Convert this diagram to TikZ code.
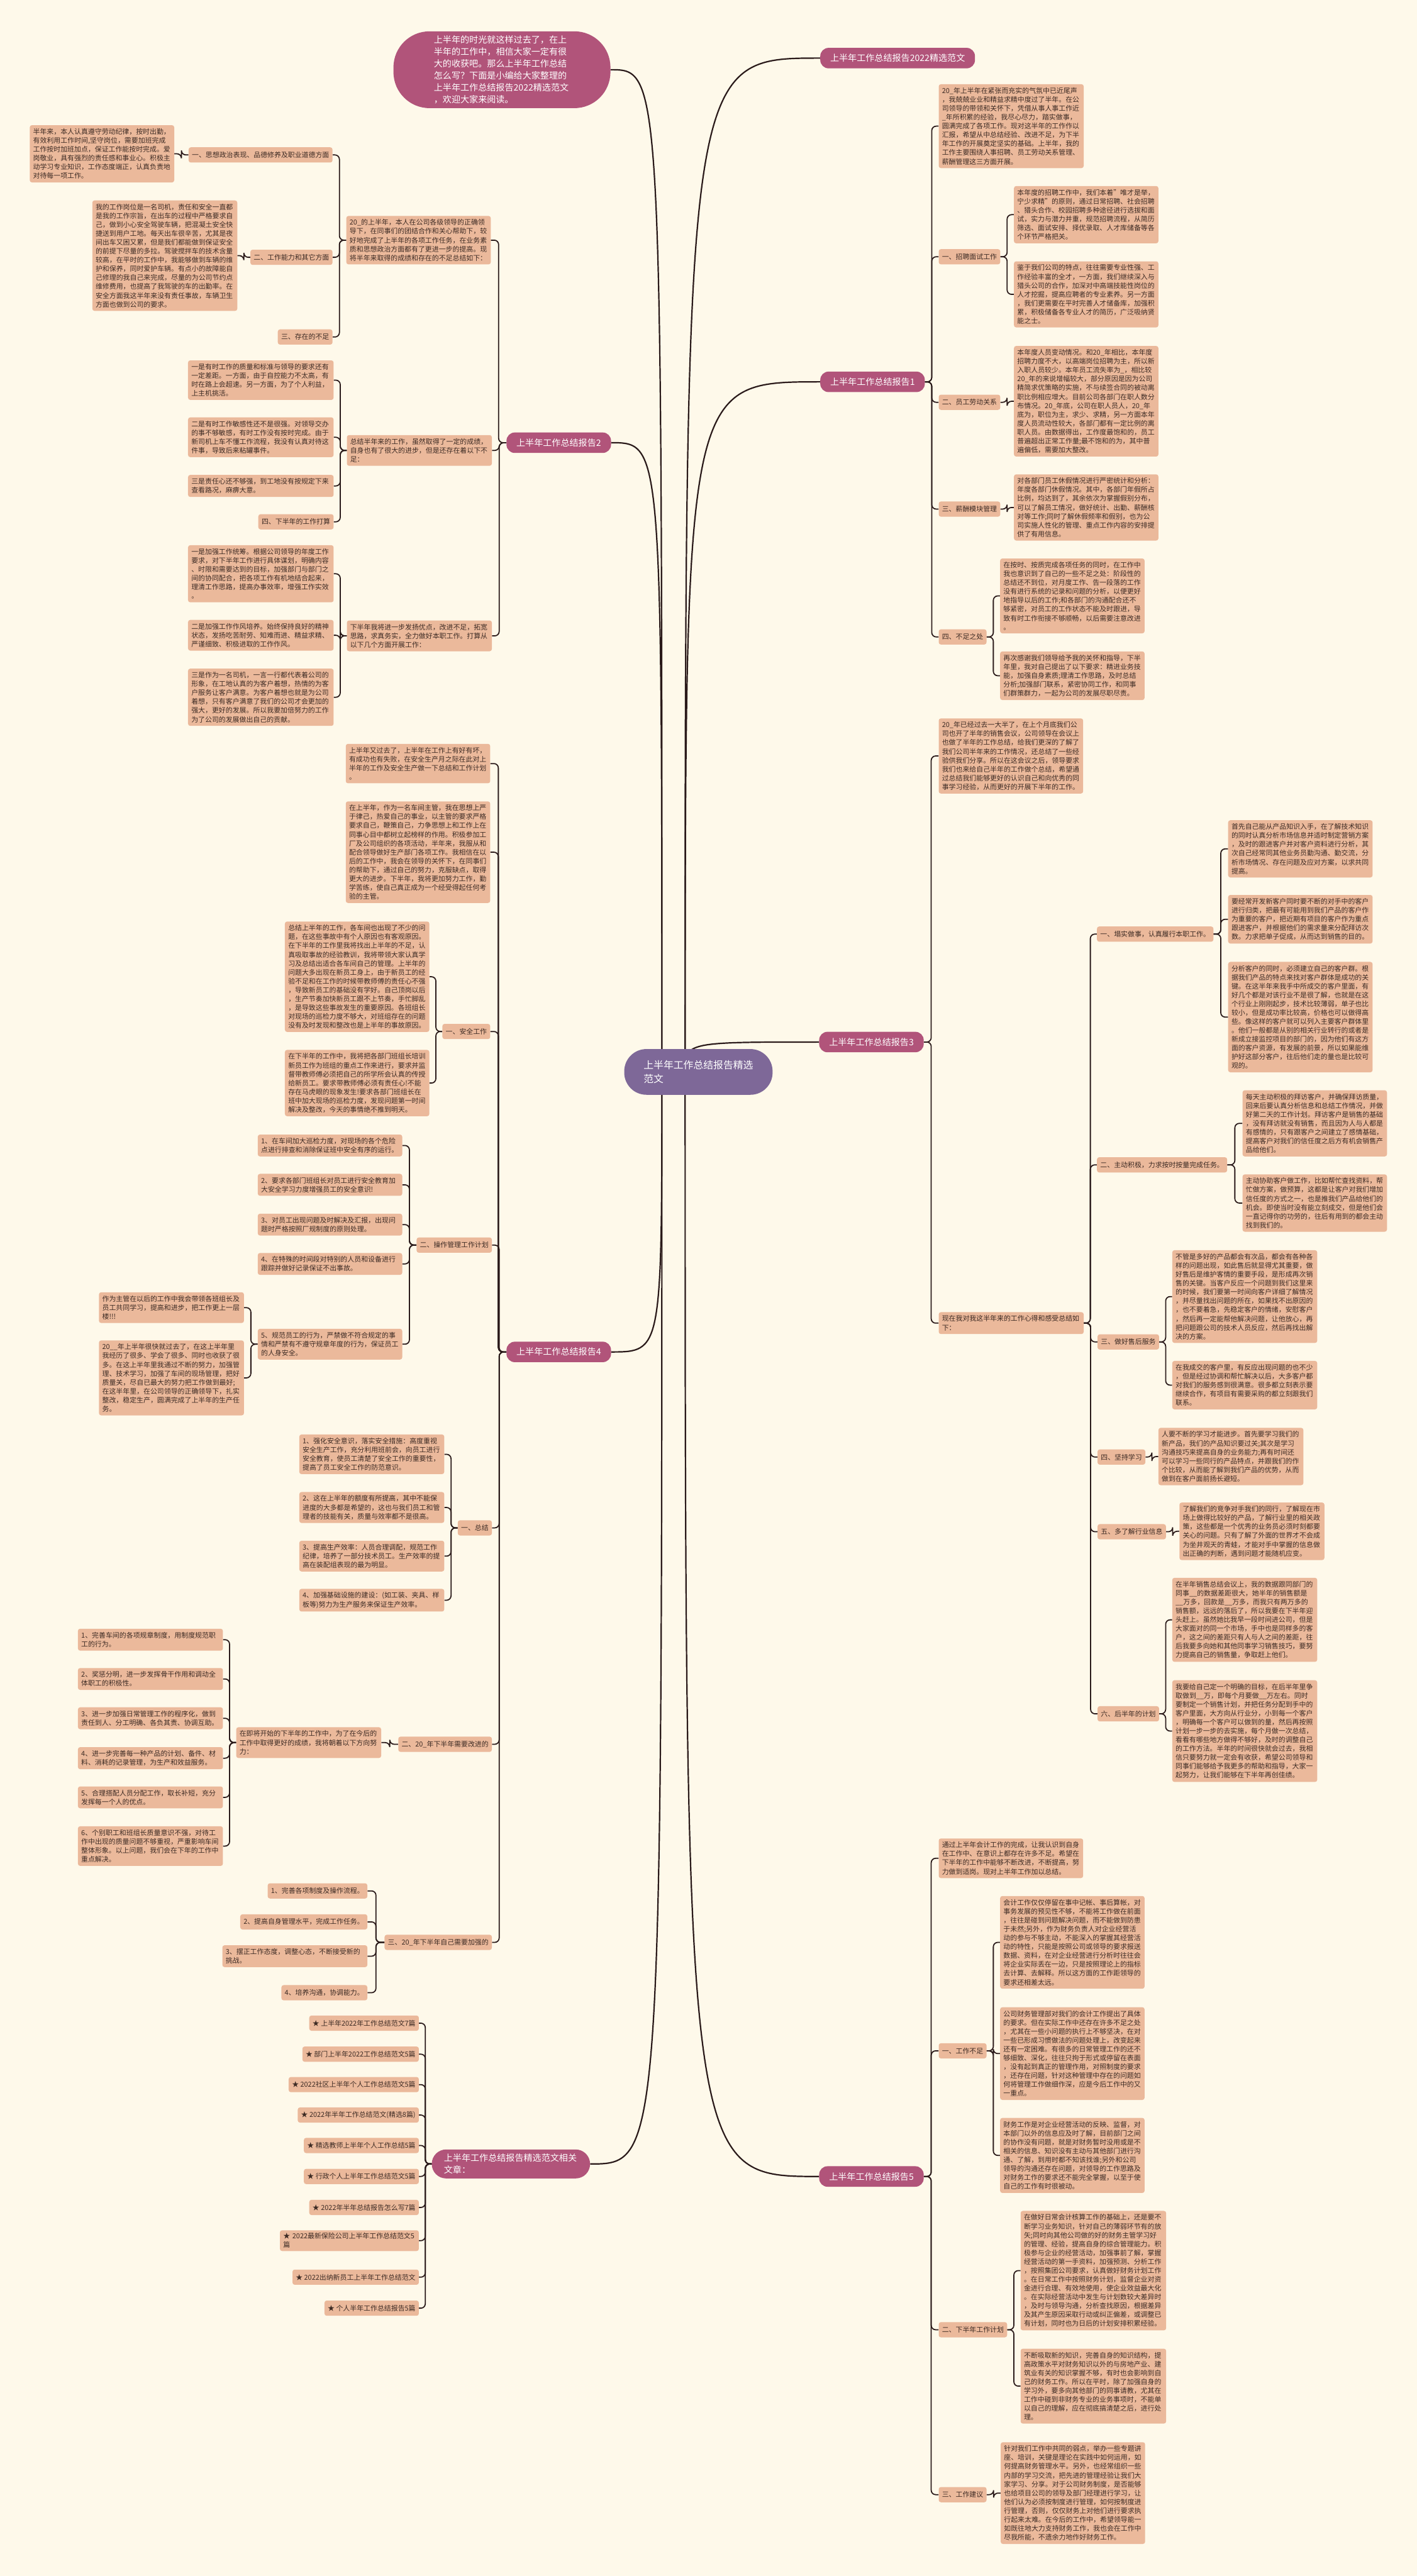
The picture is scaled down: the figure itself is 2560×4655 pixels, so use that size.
\documentclass[tikz,border=0pt]{standalone}
\usepackage{fontspec}
\setmainfont{Noto Sans CJK SC}
\usetikzlibrary{calc}
\XeTeXlinebreaklocale "zh"
\XeTeXlinebreakskip=0pt plus 0.1pt
\newcount\cjkcode
\def\setcjkclass#1#2{\cjkcode=#1\relax\loop\XeTeXcharclass\cjkcode=1\relax\advance\cjkcode by 1\relax\ifnum\cjkcode<#2\relax\repeat}
\setcjkclass{"4E00}{"A000}
\setcjkclass{"3001}{"3040}
\setcjkclass{"FF01}{"FFF0}
\XeTeXcharclass"2605=1\relax
\XeTeXinterchartokenstate=1
\XeTeXinterchartoks 1 1 = {\hskip 0pt plus 0.1pt\relax}
\XeTeXinterchartoks 0 1 = {\hskip 0pt plus 0.1pt\relax}
\XeTeXinterchartoks 1 0 = {\hskip 0pt plus 0.1pt\relax}
\definecolor{bgc}{HTML}{FEF9EA}
\definecolor{leafc}{HTML}{EBB99B}
\definecolor{txtc}{HTML}{3D2B24}
\definecolor{magc}{HTML}{B1547A}
\definecolor{cenc}{HTML}{7E6898}
\definecolor{linec}{HTML}{2A1A1A}
\newcommand\leaffont{\fontsize{12.4}{16}\selectfont}
\newcommand\mainlabfont{\fontsize{16}{21.5}\selectfont}
\newcommand\cenfont{\fontsize{18}{24}\selectfont}
\newcommand\conR[2]{\draw[conn] (#1.east) -- ($(#1.east)!.5!(#1.east -| #2.west)$) |- (#2.west);}
\newcommand\conL[2]{\draw[conn] (#1.west) -- ($(#1.west)!.5!(#1.west -| #2.east)$) |- (#2.east);}
\newcommand\cenR[1]{\draw[bigconn] let \p1=(#1.west), \p2=(csR) in (\p2) .. controls (\x2,\y1) .. (\p1);}
\newcommand\cenL[1]{\draw[bigconn] let \p1=(#1.east), \p2=(csL) in (\p2) .. controls (\x2,\y1) .. (\p1);}
\pgfdeclarelayer{bgfill}
\pgfdeclarelayer{background}
\pgfsetlayers{bgfill,background,main}
\tikzset{
  leafR/.style={fill=leafc, rounded corners=4pt, inner xsep=6pt, inner ysep=6pt, text width=#1pt, align=left, font=\leaffont, text=txtc, anchor=north west},
  leafL/.style={leafR=#1, anchor=north east},
  labR/.style={fill=leafc, rounded corners=4pt, inner xsep=6pt, inner ysep=3pt, minimum height=27.5pt, font=\leaffont, text=txtc, anchor=north west},
  labL/.style={labR, anchor=north east},
  mainlab/.style={fill=magc, text=white, rounded corners=15pt, inner xsep=18pt, inner ysep=4pt, minimum height=37pt, font=\mainlabfont},
  introbox/.style={fill=magc, text=white, font=\mainlabfont, text width=246pt, align=left, inner xsep=73pt, inner ysep=8pt, rounded corners=65pt},
  cenbox/.style={fill=cenc, text=white, font=\cenfont, align=left, inner xsep=35pt, inner ysep=21pt, rounded corners=40pt},
  rellab/.style={fill=magc, text=white, font=\mainlabfont, text width=242pt, align=left, inner xsep=22pt, inner ysep=8pt, rounded corners=26pt, anchor=north west},
  conn/.style={draw=linec, line width=2pt, rounded corners=8pt},
  bigconn/.style={draw=linec, line width=2.5pt}
}
\begin{document}
\begin{tikzpicture}[x=1pt,y=-1pt]
\begin{pgfonlayer}{bgfill}
\fill[bgc] (0,0) rectangle (2560,4655);
\end{pgfonlayer}
\path[use as bounding box] (0,0) rectangle (2560,4655);

% ---------- centre and intro ----------
\node[cenbox] (cen) at (1262,1937) {上半年工作总结报告精选\\范文};
\coordinate (csR) at (1238,1937);
\coordinate (csL) at (1196,1937);
\node[introbox] (intro) at (907,126) {上半年的时光就这样过去了，在上半年的工作中，相信大家一定有很大的收获吧。那么上半年工作总结怎么写？下面是小编给大家整理的上半年工作总结报告2022精选范文，欢迎大家来阅读。};

% ---------- report 2 (left) ----------
\node[mainlab, anchor=west] (r2) at (915,800) {上半年工作总结报告2};
\node[leafL=249] (r2a) at (887,390) {20\_的上半年，本人在公司各级领导的正确领导下，在同事们的团结合作和关心帮助下，较好地完成了上半年的各项工作任务，在业务素质和思想政治方面都有了更进一步的提高。现将半年来取得的成绩和存在的不足总结如下：};
\node[labL] (r2a1) at (601,266) {一、思想政治表现、品德修养及职业道德方面};
\node[leafL=249] (r2a1l) at (315,226) {半年来，本人认真遵守劳动纪律，按时出勤，有效利用工作时间,坚守岗位，需要加班完成工作按时加班加点，保证工作能按时完成。爱岗敬业，具有强烈的责任感和事业心。积极主动学习专业知识，工作态度端正，认真负责地对待每一项工作。};
\node[labL] (r2a2) at (601,451) {二、工作能力和其它方面};
\node[leafL=250] (r2a2l) at (429,362) {我的工作岗位是一名司机，责任和安全一直都是我的工作宗旨，在出车的过程中严格要求自己，做到小心安全驾驶车辆，把混凝土安全快捷送到用户工地。每天出车很辛苦，尤其是夜间出车又困又累，但是我们都能做到保证安全的前提下尽量的多拉。驾驶搅拌车的技术含量较高，在平时的工作中，我能够做到车辆的维护和保养，同时爱护车辆。有点小的故障能自己修理的我自己来完成，尽量的为公司节约点维修费用，也提高了我驾驶的车的出勤率。在安全方面我这半年来没有责任事故，车辆卫生方面也做到公司的要求。};
\node[labL] (r2a3) at (601,595) {三、存在的不足};
\node[leafL=250] (r2b) at (889,786) {总结半年来的工作，虽然取得了一定的成绩，自身也有了很大的进步，但是还存在着以下不足：};
\node[leafL=251] (r2b1) at (603,651) {一是有时工作的质量和标准与领导的要求还有一定差距。一方面，由于自控能力不太高，有时在路上会超速。另一方面，为了个人利益，上主机挑活。};
\node[leafL=251] (r2b2) at (603,754) {二是有时工作敏感性还不是很强。对领导交办的事不够敏感，有时工作没有按时完成。由于新司机上车不懂工作流程，我没有认真对待这件事，导致后来粘罐事件。};
\node[leafL=251] (r2b3) at (603,858) {三是责任心还不够强，到工地没有按规定下来查看路况，麻痹大意。};
\node[labL] (r2b4) at (603,929) {四、下半年的工作打算};
\node[leafL=250] (r2c) at (889,1121) {下半年我将进一步发扬优点，改进不足，拓宽思路，求真务实，全力做好本职工作。打算从以下几个方面开展工作：};
\node[leafL=251] (r2c1) at (603,985) {一是加强工作统筹。根据公司领导的年度工作要求，对下半年工作进行具体谋划，明确内容、时限和需要达到的目标，加强部门与部门之间的协同配合，把各项工作有机地结合起来，理清工作思路，提高办事效率，增强工作实效。};
\node[leafL=251] (r2c2) at (603,1120) {二是加强工作作风培养。始终保持良好的精神状态，发扬吃苦耐劳、知难而进、精益求精、严谨细致、积极进取的工作作风。};
\node[leafL=251] (r2c3) at (603,1208) {三是作为一名司机，一言一行都代表着公司的形象，在工地认真的为客户着想，热情的为客户服务让客户满意。为客户着想也就是为公司着想，只有客户满意了我们的公司才会更加的强大，更好的发展。所以我要加倍努力的工作为了公司的发展做出自己的贡献。};

% ---------- report 4 (left) ----------
\node[mainlab, anchor=west] (r4) at (915,2443) {上半年工作总结报告4};
\node[leafL=249] (r4a) at (886,1344) {上半年又过去了，上半年在工作上有好有坏，有成功也有失败，在安全生产月之际在此对上半年的工作及安全生产做一下总结和工作计划。};
\node[leafL=249] (r4b) at (886,1448) {在上半年，作为一名车间主管，我在思想上严于律己，热爱自己的事业，以主管的要求严格要求自己，鞭策自己，力争思想上和工作上在同事心目中都树立起榜样的作用。积极参加工厂及公司组织的各项活动，半年来，我服从和配合领导做好生产部门各项工作。我相信在以后的工作中，我会在领导的关怀下，在同事们的帮助下，通过自己的努力，克服缺点，取得更大的进步。下半年，我将更加努力工作，勤学苦练，使自己真正成为一个经受得起任何考验的主管。};
\node[labL] (r4c) at (886,1850) {一、安全工作};
\node[leafL=249] (r4c1) at (776,1665) {总结上半年的工作，各车间也出现了不少的问题，在这些事故中有个人原因也有客观原因。在下半年的工作里我将找出上半年的不足，认真吸取事故的经验教训，我将带领大家认真学习及总结出适合各车间自己的管理。上半年的问题大多出现在新员工身上，由于新员工的经验不足和在工作的时候带教师傅的责任心不强，导致新员工的基础没有学好。自己顶岗以后，生产节奏加快新员工跟不上节奏，手忙脚乱，是导致这些事故发生的重要原因。各班组长对现场的巡检力度不够大，对班组存在的问题没有及时发现和整改也是上半年的事故原因。};
\node[leafL=249] (r4c2) at (776,1897) {在下半年的工作中，我将把各部门班组长培训新员工作为班组的重点工作来进行，要求并监督带教师傅必须把自己的所学所会认真的传授给新员工。要求带教师傅必须有责任心!不能存在马虎眼的现象发生!要求各部门班组长在班中加大现场的巡检力度，发现问题第一时间解决及整改，今天的事情绝不推到明天。};
\node[labL] (r4d) at (889,2236) {二、操作管理工作计划};
\node[leafL=249] (r4d1) at (727,2050) {1、在车间加大巡检力度，对现场的各个危险点进行排查和消除保证班中安全有序的运行。};
\node[leafL=249] (r4d2) at (727,2121) {2、要求各部门班组长对员工进行安全教育加大安全学习力度增强员工的安全意识!};
\node[leafL=249] (r4d3) at (727,2193) {3、对员工出现问题及时解决及汇报，出现问题时严格按照厂规制度的原则处理。};
\node[leafL=249] (r4d4) at (727,2264) {4、在特殊的时间段对特别的人员和设备进行跟踪并做好记录保证不出事故。};
\node[leafL=249] (r4d5) at (727,2401) {5、规范员工的行为，严禁做不符合规定的事情和严禁有不遵守规章年度的行为，保证员工的人身安全。};
\node[leafL=250] (r4d5a) at (441,2335) {作为主管在以后的工作中我会带领各班组长及员工共同学习，提高和进步，把工作更上一层楼!!!};
\node[leafL=250] (r4d5b) at (441,2422) {20\_\_年上半年很快就过去了，在这上半年里我经历了很多、学会了很多、同时也收获了很多。在这上半年里我通过不断的努力，加强管理、技术学习，加强了车间的现场管理，把好质量关，尽自已最大的努力把工作做到最好;在这半年里，在公司领导的正确领导下，扎实整改，稳定生产，圆满完成了上半年的生产任务。};
\node[labL] (r4e) at (889,2747) {一、总结};
\node[leafL=250] (r4e1) at (803,2592) {1、强化安全意识，落实安全措施：高度重视安全生产工作，充分利用班前会，向员工进行安全教育，使员工清楚了安全工作的重要性，提高了员工安全工作的防范意识。};
\node[leafL=250] (r4e2) at (803,2696) {2、这在上半年的额度有所提高，其中不能保进度的大多都是希望的，这也与我们员工和管理者的技能有关，质量与效率都不是很高。};
\node[leafL=250] (r4e3) at (803,2784) {3、提高生产效率：人员合理调配，规范工作纪律，培养了一部分技术员工。生产效率的提高在装配组表现的最为明显。};
\node[leafL=250] (r4e4) at (803,2871) {4、加强基础设施的建设：(如工装、夹具、样板等)努力为生产服务来保证生产效率。};
\node[labL] (r4f) at (889,3138) {二、20\_年下半年需要改进的};
\node[leafL=250] (r4f0) at (689,3121) {在即将开始的下半年的工作中，为了在今后的工作中取得更好的成绩，我将朝着以下方向努力：};
\node[leafL=250] (r4f1) at (403,2943) {1、完善车间的各项规章制度，用制度规范职工的行为。};
\node[leafL=250] (r4f2) at (403,3014) {2、奖惩分明，进一步发挥骨干作用和调动全体职工的积极性。};
\node[leafL=250] (r4f3) at (403,3085) {3、进一步加强日常管理工作的程序化，做到责任到人、分工明确、各负其责、协调互助。};
\node[leafL=250] (r4f4) at (403,3157) {4、进一步完善每一种产品的计划、备件、材料、消耗的记录管理，为生产和效益服务。};
\node[leafL=250] (r4f5) at (403,3228) {5、合理搭配人员分配工作，取长补短，充分发挥每一个人的优点。};
\node[leafL=250] (r4f6) at (403,3300) {6、个别职工和班组长质量意识不强，对待工作中出现的质量问题不够重视，严重影响车间整体形象。以上问题，我们会在下年的工作中重点解决。};
\node[labL] (r4g) at (889,3496) {三、20\_年下半年自己需要加强的};
\node[labL] (r4g1) at (664,3403) {1、完善各项制度及操作流程。};
\node[labL] (r4g2) at (664,3459) {2、提高自身管理水平，完成工作任务。};
\node[leafL=250] (r4g3) at (664,3515) {3、摆正工作态度，调整心态，不断接受新的挑战。};
\node[labL] (r4g4) at (664,3587) {4、培养沟通，协调能力。};

% ---------- related articles (left) ----------
\node[rellab] (rel) at (780,3884) {上半年工作总结报告精选范文相关文章：};
\node[labL] (rl1) at (757,3642) {★ 上半年2022年工作总结范文7篇};
\node[labL] (rl2) at (757,3698) {★ 部门上半年2022工作总结范文5篇};
\node[labL] (rl3) at (757,3753) {★ 2022社区上半年个人工作总结范文5篇};
\node[labL] (rl4) at (757,3808) {★ 2022年半年工作总结范文(精选8篇)};
\node[labL] (rl5) at (757,3863) {★ 精选教师上半年个人工作总结5篇};
\node[labL] (rl6) at (757,3919) {★ 行政个人上半年工作总结范文5篇};
\node[labL] (rl7) at (757,3975) {★ 2022年半年总结报告怎么写7篇};
\node[leafL=239, inner ysep=5pt] (rl8) at (757,4030) {★ 2022最新保险公司上半年工作总结范文5篇};
\node[labL] (rl9) at (757,4101) {★ 2022出纳新员工上半年工作总结范文};
\node[labL] (rl10) at (757,4157) {★ 个人半年工作总结报告5篇};

% ---------- right: 2022 label and report 1 ----------
\node[mainlab, anchor=west] (r0) at (1482,105) {上半年工作总结报告2022精选范文};
\node[mainlab, anchor=west] (r1) at (1482,690) {上半年工作总结报告1};
\node[leafR=250] (r1a) at (1696,152) {20\_年上半年在紧张而充实的气氛中已近尾声，我兢兢业业和精益求精中度过了半年。在公司领导的带领和关怀下，凭借从事人事工作近\_年所积累的经验，我尽心尽力，踏实做事，圆满完成了各项工作。现对这半年的工作作以汇报，希望从中总结经验、改进不足，为下半年工作的开展奠定坚实的基础。上半年，我的工作主要围绕人事招聘、员工劳动关系管理、薪酬管理这三方面开展。};
\node[labR] (r1b) at (1696,450) {一、招聘面试工作};
\node[leafR=249] (r1b1) at (1832,336) {本年度的招聘工作中，我们本着"唯才是举，宁少求精"的原则，通过日常招聘、社会招聘、猎头合作、校园招聘多种途径进行选拔和面试，实力与潜力并重，规范招聘流程，从简历筛选、面试安排、择优录取、人才库储备等各个环节严格把关。};
\node[leafR=249] (r1b2) at (1832,472) {鉴于我们公司的特点，往往需要专业性强、工作经验丰富的全才，一方面，我们继续深入与猎头公司的合作，加深对中高端技能性岗位的人才挖掘，提高应聘者的专业素养。另一方面，我们更需要在平时完善人才储备库，加强积累，积极储备各专业人才的简历，广泛吸纳贤能之士。};
\node[labR] (r1c) at (1696,713) {二、员工劳动关系};
\node[leafR=249] (r1c1) at (1832,625) {本年度人员变动情况。和20\_年相比，本年度招聘力度不大，以高端岗位招聘为主，所以新入职人员较少。本年员工流失率为\_，相比较20\_年的来说增幅较大，部分原因是因为公司精简求优策略的实施，不与续签合同的被动离职比例相应增大。目前公司各部门在职人数分布情况。20\_年底，公司在职人员人，20\_年底为，职位为主，求少、求精，另一方面本年度人员流动性较大，各部门都有一定比例的离职人员。由数据得出，工作度最饱和的，员工普遍超出正常工作量;最不饱和的为，其中普遍偏低，需要加大整改。};
\node[labR] (r1d) at (1696,906) {三、薪酬模块管理};
\node[leafR=249] (r1d1) at (1832,857) {对各部门员工休假情况进行严密统计和分析：年度各部门休假情况。其中，各部门年假所占比例，均达到了，其余依次为掌握假别分布，可以了解员工情况，做好统计、出勤、薪酬核对等工作;同时了解休假频率和假别，也为公司实施人性化的管理、重点工作内容的安排提供了有用信息。};
\node[labR] (r1e) at (1696,1137) {四、不足之处};
\node[leafR=249] (r1e1) at (1807,1009) {在按时、按质完成各项任务的同时，在工作中我也意识到了自己的一些不足之处：阶段性的总结还不到位，对月度工作、告一段落的工作没有进行系统的记录和问题的分析，以便更好地指导以后的工作;和各部门的沟通配合还不够紧密，对员工的工作状态不能及时跟进，导致有时工作衔接不够顺畅，以后需要注意改进。};
\node[leafR=249] (r1e2) at (1807,1177) {再次感谢我们领导给予我的关怀和指导，下半年里，我对自己提出了以下要求：精进业务技能，加强自身素质;理清工作思路，及时总结分析;加强部门联系，紧密协同工作，和同事们群策群力，一起为公司的发展尽职尽责。};

% ---------- report 3 ----------
\node[mainlab, anchor=west] (r3) at (1480,1883) {上半年工作总结报告3};
\node[leafR=249] (r3a) at (1696,1298) {20\_年已经过去一大半了，在上个月底我们公司也开了半年的销售会议，公司领导在会议上也做了半年的工作总结，给我们更深的了解了我们公司半年来的工作情况，还总结了一些经验供我们分享。所以在这会议之后，领导要求我们也来给自己半年的工作做个总结，希望通过总结我们能够更好的认识自己和向优秀的同事学习经验，从而更好的开展下半年的工作。};
\node[leafR=250] (r3b) at (1696,2371) {现在我对我这半年来的工作心得和感受总结如下：};
\node[labR] (r3b1) at (1982,1674) {一、塌实做事，认真履行本职工作。};
\node[leafR=249] (r3b1a) at (2219,1482) {首先自己能从产品知识入手，在了解技术知识的同时认真分析市场信息并适时制定营销方案，及时的跟进客户并对客户资料进行分析，其次自己经常同其他业务员勤沟通、勤交流，分析市场情况、存在问题及应对方案，以求共同提高。};
\node[leafR=249] (r3b1b) at (2219,1617) {要经常开发新客户同时要不断的对手中的客户进行归类，把最有可能用到我们产品的客户作为重要的客户，把近期有项目的客户作为重点跟进客户，并根据他们的需求量来分配拜访次数。力求把单子促成，从而达到销售的目的。};
\node[leafR=249] (r3b1c) at (2219,1738) {分析客户的同时，必须建立自己的客户群。根据我们产品的特点来找对客户群体是成功的关键。在这半年来我手中所成交的客户里面，有好几个都是对该行业不是很了解，也就是在这个行业上刚刚起步，技术比较薄弱，单子也比较小，但是成功率比较高，价格也可以做得高些。像这样的客户就可以列入主要客户群体里。他们一般都是从别的相关行业转行的或者是新成立接监控项目的部门的，因为他们有这方面的客户资源，有发展的前景，所以如果能维护好这部分客户，往后他们走的量也是比较可观的。};
\node[labR] (r3b2) at (1982,2091) {二、主动积极，力求按时按量完成任务。};
\node[leafR=249] (r3b2a) at (2245,1970) {每天主动积极的拜访客户，并确保拜访质量，回来后要认真分析信息和总结工作情况，并做好第二天的工作计划。拜访客户是销售的基础，没有拜访就没有销售，而且因为人与人都是有感情的，只有跟客户之间建立了感情基础，提高客户对我们的信任度之后方有机会销售产品给他们。};
\node[leafR=249] (r3b2b) at (2245,2122) {主动协助客户做工作，比如帮忙查找资料，帮忙做方案，做预算，这都是让客户对我们增加信任度的方式之一，也是推我们产品给他们的机会。即使当时没有能立刻成交，但是他们会一直记得你的功劳的，往后有用到的都会主动找到我们的。};
\node[labR] (r3b3) at (1983,2411) {三、做好售后服务};
\node[leafR=250] (r3b3a) at (2118,2259) {不管是多好的产品都会有次品，都会有各种各样的问题出现，如此售后就显得尤其重要，做好售后是维护客情的重要手段，是形成再次销售的关键。当客户反应一个问题到我们这里来的时候，我们要第一时间向客户详细了解情况，并尽量找出问题的所在，如果找不出原因的，也不要着急，先稳定客户的情绪，安慰客户，然后再一定能帮他解决问题，让他放心，再把问题跟公司的技术人员反应，然后再找出解决的方案。};
\node[leafR=250] (r3b3b) at (2118,2459) {在我成交的客户里，有反应出现问题的也不少，但是经过协调和帮忙解决以后，大多客户都对我们的服务感到很满意。很多都立刻表示要继续合作，有项目有需要采购的都立刻跟我们联系。};
\node[labR] (r3b4) at (1983,2619) {四、坚持学习};
\node[leafR=250] (r3b4a) at (2093,2580) {人要不断的学习才能进步。首先要学习我们的新产品，我们的产品知识要过关;其次是学习沟通技巧来提高自身的业务能力;再有时间还可以学习一些同行的产品特点，并跟我们的作个比较，从而能了解到我们产品的优势，从而做到在客户面前扬长避短。};
\node[labR] (r3b5) at (1983,2754) {五、多了解行业信息};
\node[leafR=250] (r3b5a) at (2131,2715) {了解我们的竞争对手我们的同行，了解现在市场上做得比较好的产品，了解行业里的相关政策，这些都是一个优秀的业务员必须时刻都要关心的问题。只有了解了外面的世界才不会成为坐井观天的青蛙，才能对手中掌握的信息做出正确的判断，遇到问题才能随机应变。};
\node[labR] (r3b6) at (1983,3083) {六、后半年的计划};
\node[leafR=250] (r3b6a) at (2118,2851) {在半年销售总结会议上，我的数据跟同部门的同事\_\_的数据差距很大，她半年的销售额是\_\_万多，回款是\_\_万多，而我只有两万多的销售额，远远的落后了，所以我要在下半年迎头赶上。虽然她比我早一段时间进公司，但是大家面对的同一个市场，手中也是同样多的客户，这之间的差距只有人与人之间的差距，往后我要多向她和其他同事学习销售技巧，要努力提高自己的销售量，争取赶上他们。};
\node[leafR=250] (r3b6b) at (2118,3036) {我要给自己定一个明确的目标，在后半年里争取做到\_\_万，即每个月要做\_\_万左右。同时要制定一个销售计划，并把任务分配到手中的客户里面，大方向从行业分，小到每一个客户，明确每一个客户可以做到的量，然后再按照计划一步一步的去实施，每个月做一次总结，看看有哪些地方做得不够好，及时的调整自己的工作方法。半年的时间很快就会过去，我相信只要努力就一定会有收获，希望公司领导和同事们能够给予我更多的帮助和指导，大家一起努力，让我们能够在下半年再创佳绩。};

% ---------- report 5 ----------
\node[mainlab, anchor=west] (r5) at (1480,3933) {上半年工作总结报告5};
\node[leafR=249] (r5a) at (1696,3322) {通过上半年会计工作的完成，让我认识到自身在工作中、在意识上都存在许多不足。希望在下半年的工作中能够不断改进，不断提高，努力做到适岗。现对上半年工作加以总结。};
\node[labR] (r5b) at (1696,3692) {一、工作不足};
\node[leafR=249] (r5b1) at (1807,3426) {会计工作仅仅停留在事中记帐、事后算帐，对事务发展的预见性不够，不能将工作做在前面，往往是碰到问题解决问题，而不能做到防患于未然;另外，作为财务负责人对企业经营活动的参与不够主动，不能深入的掌握其经营活动的特性，只能是按照公司或领导的要求报送数据、资料，在对企业经营进行分析时往往会将企业实际丢在一边，只是按照理论上的指标去计算、去解释。所以这方面的工作距领导的要求还相差太远。};
\node[leafR=249] (r5b2) at (1807,3627) {公司财务管理部对我们的会计工作提出了具体的要求。但在实际工作中还存在许多不足之处，尤其在一些小问题的执行上不够坚决，在对一些已形成习惯做法的问题处理上，改变起来还有一定困难。有很多的日常管理工作的还不够细致、深化，往往只拘于形式或停留在表面，没有起到真正的管理作用，对照制度的要求，还存在问题，针对这种管理中存在的问题如何将管理工作做细作深，应是今后工作中的又一重点。};
\node[leafR=249] (r5b3) at (1807,3827) {财务工作是对企业经营活动的反映、监督，对本部门以外的信息应及时了解，目前部门之间的协作没有问题，就是对财务暂时没用或是不相关的信息、知识没有主动与其他部门进行沟通、了解，到用时都不知该找谁;另外和公司领导的沟通还存在问题，对领导的工作思路及对财务工作的要求还不能完全掌握，以至于使自己的工作有时很被动。};
\node[labR] (r5c) at (1696,4196) {二、下半年工作计划};
\node[leafR=251] (r5c1) at (1844,3995) {在做好日常会计核算工作的基础上，还是要不断学习业务知识，针对自己的薄弱环节有的放矢;同时向其他公司做的好的财务主管学习好的管理、经验，提高自身的综合管理能力。积极参与企业的经营活动，加强事前了解，掌握经营活动的第一手资料，加强预测、分析工作，按照集团公司要求，认真做好财务计划工作。在日常工作中按照财务计划，监督企业对资金进行合理、有效地使用，使企业效益最大化。在实际经营活动中发生与计划数较大差异时，及时与领导沟通，分析查找原因，根据差异及其产生原因采取行动或纠正偏差，或调整已有计划，同时也为日后的计划安排积累经验。};
\node[leafR=251] (r5c2) at (1844,4244) {不断吸取新的知识，完善自身的知识结构，提高政策水平对财务知识以外的与房地产业、建筑业有关的知识掌握不够，有时也会影响到自己的财务工作。所以在平时，除了加强自身的学习外，要多向其他部门的同事请教，尤其在工作中碰到非财务专业的业务事项时，不能单以自己的理解，应在彻底搞清楚之后，进行处理。};
\node[labR] (r5d) at (1696,4494) {三、工作建议};
\node[leafR=249] (r5d1) at (1808,4413) {针对我们工作中共同的弱点，举办一些专题讲座、培训，关键是理论在实践中如何运用，如何提高财务管理水平。另外，也经常组织一些内部的学习交流，把先进的管理经验让我们大家学习、分享。对于公司财务制度，是否能够也给项目公司的领导及部门经理进行学习，让他们认为必须按制度进行管理，如何按制度进行管理，否则，仅仅财务上对他们进行要求执行起来太难。在今后的工作中，希望领导能一如既往地大力支持财务工作，我也会在工作中尽我所能，不遗余力地作好财务工作。};

% ---------- connectors ----------
\begin{pgfonlayer}{background}
\cenL{intro} \cenL{r2} \cenL{r4} \cenL{rel}
\cenR{r0} \cenR{r1} \cenR{r3} \cenR{r5}
\conL{r2}{r2a} \conL{r2}{r2b} \conL{r2}{r2c}
\conL{r2a}{r2a1} \conL{r2a}{r2a2} \conL{r2a}{r2a3}
\conL{r2a1}{r2a1l} \conL{r2a2}{r2a2l}
\conL{r2b}{r2b1} \conL{r2b}{r2b2} \conL{r2b}{r2b3} \conL{r2b}{r2b4}
\conL{r2c}{r2c1} \conL{r2c}{r2c2} \conL{r2c}{r2c3}
\conL{r4}{r4a} \conL{r4}{r4b} \conL{r4}{r4c} \conL{r4}{r4d} \conL{r4}{r4e} \conL{r4}{r4f} \conL{r4}{r4g}
\conL{r4c}{r4c1} \conL{r4c}{r4c2}
\conL{r4d}{r4d1} \conL{r4d}{r4d2} \conL{r4d}{r4d3} \conL{r4d}{r4d4} \conL{r4d}{r4d5}
\conL{r4d5}{r4d5a} \conL{r4d5}{r4d5b}
\conL{r4e}{r4e1} \conL{r4e}{r4e2} \conL{r4e}{r4e3} \conL{r4e}{r4e4}
\conL{r4f}{r4f0}
\conL{r4f0}{r4f1} \conL{r4f0}{r4f2} \conL{r4f0}{r4f3} \conL{r4f0}{r4f4} \conL{r4f0}{r4f5} \conL{r4f0}{r4f6}
\conL{r4g}{r4g1} \conL{r4g}{r4g2} \conL{r4g}{r4g3} \conL{r4g}{r4g4}
\conL{rel}{rl1} \conL{rel}{rl2} \conL{rel}{rl3} \conL{rel}{rl4} \conL{rel}{rl5}
\conL{rel}{rl6} \conL{rel}{rl7} \conL{rel}{rl8} \conL{rel}{rl9} \conL{rel}{rl10}
\conR{r1}{r1a} \conR{r1}{r1b} \conR{r1}{r1c} \conR{r1}{r1d} \conR{r1}{r1e}
\conR{r1b}{r1b1} \conR{r1b}{r1b2} \conR{r1c}{r1c1} \conR{r1d}{r1d1}
\conR{r1e}{r1e1} \conR{r1e}{r1e2}
\conR{r3}{r3a} \conR{r3}{r3b}
\conR{r3b}{r3b1} \conR{r3b}{r3b2} \conR{r3b}{r3b3} \conR{r3b}{r3b4} \conR{r3b}{r3b5} \conR{r3b}{r3b6}
\conR{r3b1}{r3b1a} \conR{r3b1}{r3b1b} \conR{r3b1}{r3b1c}
\conR{r3b2}{r3b2a} \conR{r3b2}{r3b2b}
\conR{r3b3}{r3b3a} \conR{r3b3}{r3b3b}
\conR{r3b4}{r3b4a} \conR{r3b5}{r3b5a}
\conR{r3b6}{r3b6a} \conR{r3b6}{r3b6b}
\conR{r5}{r5a} \conR{r5}{r5b} \conR{r5}{r5c} \conR{r5}{r5d}
\conR{r5b}{r5b1} \conR{r5b}{r5b2} \conR{r5b}{r5b3}
\conR{r5c}{r5c1} \conR{r5c}{r5c2} \conR{r5d}{r5d1}
\end{pgfonlayer}
\end{tikzpicture}
\end{document}
